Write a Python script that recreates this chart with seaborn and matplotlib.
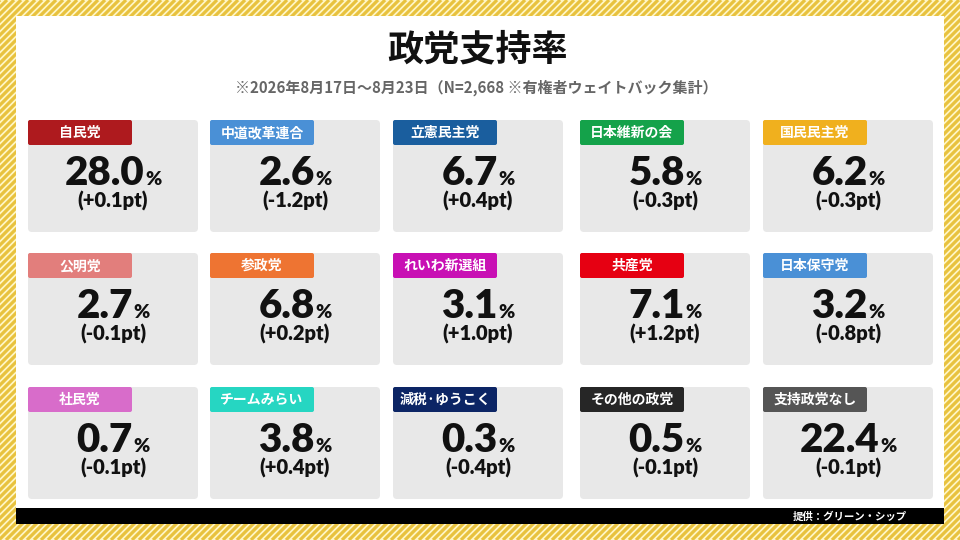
import matplotlib
matplotlib.use("Agg")
import matplotlib.pyplot as plt
from matplotlib.patches import FancyBboxPatch, Rectangle
import seaborn as sns

parties = ["自民党", "中道改革連合", "立憲民主党", "日本維新の会", "国民民主党",
           "公明党", "参政党", "れいわ新選組", "共産党", "日本保守党",
           "社民党", "チームみらい", "減税·ゆうこく", "その他の政党", "支持政党なし"]
values = [28.0, 2.6, 6.7, 5.8, 6.2,
          2.7, 6.8, 3.1, 7.1, 3.2,
          0.7, 3.8, 0.3, 0.5, 22.4]
changes = [0.1, -1.2, 0.4, -0.3, -0.3,
           -0.1, 0.2, 1.0, 1.2, -0.8,
           -0.1, 0.4, -0.4, -0.1, -0.1]
tab_colors = ["#AE1A1E", "#4A90D6", "#1A5E9E", "#14A24A", "#F0B01E",
              "#E27E7C", "#EE7432", "#C810B4", "#E60012", "#4A90D6",
              "#D86CCA", "#26D6C2", "#0C2565", "#262626", "#555555"]

title = "政党支持率"
subtitle = "※2026年8月17日～8月23日（N=2,668 ※有権者ウェイトバック集計）"
credit = "提供：グリーン・シップ"

sns.set_theme(style="white")
plt.rcParams['font.family'] = ['Noto Sans CJK JP', 'DejaVu Sans']

W, H = 960, 540
fig = plt.figure(figsize=(9.6, 5.4), dpi=100)
ax = fig.add_axes([0, 0, 1, 1])
ax.set_xlim(0, W)
ax.set_ylim(H, 0)
ax.axis("off")

# striped border
ax.add_patch(Rectangle((0, 0), W, H, facecolor="#FFF6C6", edgecolor="none", zorder=0))
step = 7
k = -H
while k < W + H:
    ax.plot([k, k + H], [H, 0], color="#E8C23E", lw=2.3, solid_capstyle="butt", zorder=0.5)
    k += step
ax.add_patch(Rectangle((16, 16), 928, 508, facecolor="white", edgecolor="none", zorder=1))
ax.add_patch(Rectangle((16, 508), 928, 16, facecolor="black", edgecolor="none", zorder=2))

ax.text(478, 50, title, ha="center", va="center", fontsize=26, fontweight="bold",
        color="#111111", zorder=3)
ax.text(476, 88, subtitle, ha="center", va="center", fontsize=10.8, fontweight="bold",
        color="#666666", zorder=3)
ax.text(907, 517, credit, ha="right", va="center", fontsize=7.5, fontweight="bold",
        color="white", zorder=3)

col_x = [28, 210, 393, 580, 763]
row_y = [120, 253, 387]
cw, ch = 170, 112
tw, th = 104, 25

fig.canvas.draw()
renderer = fig.canvas.get_renderer()

num_font = dict(family=["Lato", "DejaVu Sans"], fontweight="heavy", color="#111111")

for i, (name, v, c, col) in enumerate(zip(parties, values, changes, tab_colors)):
    x0 = col_x[i % 5]
    y0 = row_y[i // 5]
    ax.add_patch(FancyBboxPatch((x0, y0), cw, ch,
                                boxstyle="round,pad=0,rounding_size=4",
                                facecolor="#E8E8E8", edgecolor="none", zorder=2))
    ax.add_patch(FancyBboxPatch((x0, y0), tw, th,
                                boxstyle="round,pad=0,rounding_size=2",
                                facecolor=col, edgecolor="none", zorder=3))
    ax.text(x0 + tw / 2, y0 + th / 2 + 0.5, name, ha="center", va="center",
            fontsize=10, fontweight="bold", color="white", zorder=4)

    cx = x0 + cw / 2
    t1 = ax.text(0, y0 + 65, f"{v:.1f}", ha="left", va="baseline", fontsize=29,
                 zorder=4, **num_font)
    t2 = ax.text(0, y0 + 65, "%", ha="left", va="baseline", fontsize=14,
                 zorder=4, **num_font)
    w1 = t1.get_window_extent(renderer).width
    w2 = t2.get_window_extent(renderer).width
    gap = 0.5
    total = w1 + gap + w2
    start = cx - total / 2
    t1.set_x(start)
    t2.set_x(start + w1 + gap)

    ax.text(cx, y0 + 88, f"({c:+.1f}pt)", ha="center", va="baseline", fontsize=14.5,
            zorder=4, **num_font)

fig.savefig("out.png", dpi=100)
